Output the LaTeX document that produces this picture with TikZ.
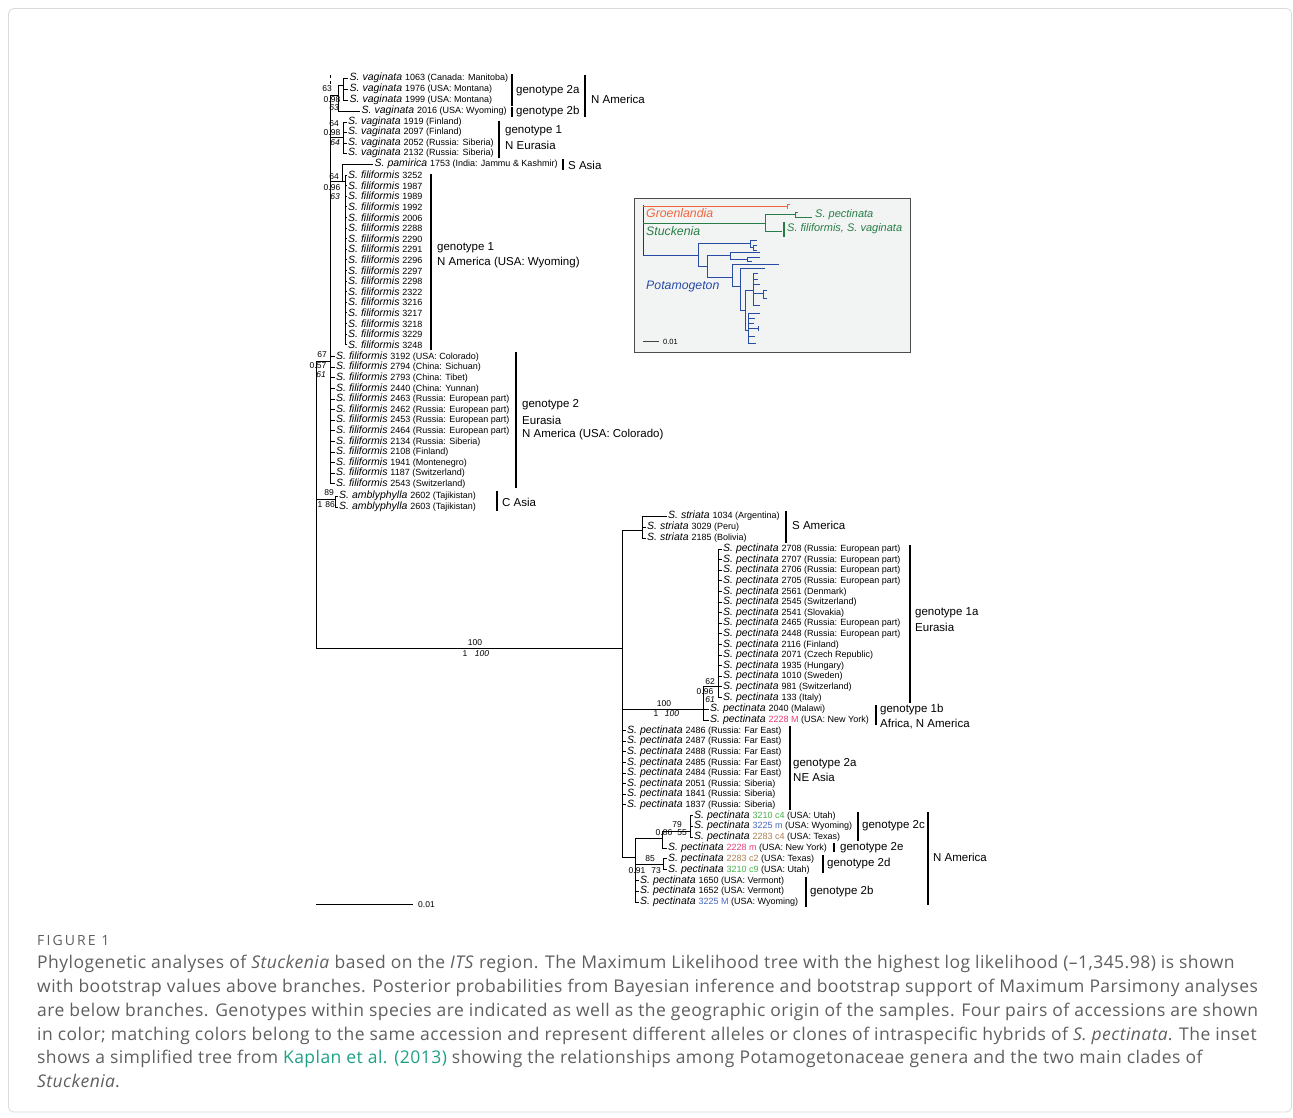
\documentclass[tikz,border=0pt]{standalone}
\usepackage{fontspec}
\setmainfont{Liberation Sans}
\newfontfamily\capfont{Open Sans}
\definecolor{cpink}{RGB}{232,60,120}
\definecolor{cgreen}{RGB}{70,175,75}
\definecolor{cblue}{RGB}{70,100,190}
\definecolor{cbrown}{RGB}{170,125,80}
\definecolor{iorange}{RGB}{240,100,60}
\definecolor{igreen}{RGB}{40,125,70}
\definecolor{iblue}{RGB}{40,75,165}
\definecolor{capgray}{RGB}{95,95,95}
\definecolor{linkcol}{RGB}{30,160,135}
\definecolor{insetbg}{RGB}{242,244,244}
\newcommand\rsm[1]{{\fontsize{9}{9}\selectfont\upshape #1}}
\newcommand\leafn[6]{\node[leaf] (#1) at (#3,#4) {S. #5 \rsm{#6}}; \draw[tk] (#2,#4) -- (#1.west);}
\begin{document}
\begin{tikzpicture}[x=1pt,y=-1pt,
 leaf/.style={anchor=west,inner xsep=1.5pt,inner ysep=0pt,font=\fontsize{10.5}{10.5}\selectfont\itshape},
 br/.style={line width=0.75pt},
 tk/.style={line width=0.75pt},
 bs/.style={inner sep=0pt,font=\fontsize{8.5}{8.5}\selectfont},
 bsi/.style={inner sep=0pt,font=\fontsize{8.5}{8.5}\selectfont\itshape},
 gbar/.style={line width=2.2pt},
 glab/.style={anchor=west,inner sep=0pt,font=\fontsize{11.5}{11.5}\selectfont},
 capline/.style={anchor=base west,inner sep=0pt,text=capgray,font=\capfont\fontsize{17.5}{17.5}\selectfont\addfontfeature{LetterSpace=2.6}},
 ib/.style={line width=1pt,iblue},
 ilab/.style={anchor=west,inner sep=0pt,font=\fontsize{12.3}{12.3}\selectfont\itshape},
]
\useasboundingbox (0,0) rectangle (1293,1117);
\draw[black!14,line width=0.8pt,rounded corners=5pt] (8.5,8.5) rectangle (1291.5,1112);

% ---------------- top clade leaves
\leafn{v1}{343}{348}{78}{vaginata}{1063 (Canada: Manitoba)}
\leafn{v2}{343}{348}{89}{vaginata}{1976 (USA: Montana)}
\leafn{v3}{343}{348}{100}{vaginata}{1999 (USA: Montana)}
\leafn{v4}{338}{360}{111}{vaginata}{2016 (USA: Wyoming)}
\leafn{v5}{343}{346.5}{122}{vaginata}{1919 (Finland)}
\leafn{v6}{343}{346.5}{132}{vaginata}{2097 (Finland)}
\leafn{v7}{343}{346.5}{143}{vaginata}{2052 (Russia: Siberia)}
\leafn{v8}{343}{346.5}{153}{vaginata}{2132 (Russia: Siberia)}
\leafn{pam}{342}{373}{164}{pamirica}{1753 (India: Jammu \& Kashmir)}
\foreach \num [count=\i from 0] in {3252,1987,1989,1992,2006,2288,2290,2291,2296,2297,2298,2322,3216,3217,3218,3229,3248}{
 \pgfmathsetmacro\yy{175+10.6*\i}
 \leafn{fa\i}{345}{346.5}{\yy}{filiformis}{\num}
}
\foreach \num/\loc [count=\i from 0] in {3192/USA: Colorado,2794/China: Sichuan,2793/China: Tibet,2440/China: Yunnan,2463/Russia: European part,2462/Russia: European part,2453/Russia: European part,2464/Russia: European part,2134/Russia: Siberia,2108/Finland,1941/Montenegro,1187/Switzerland,2543/Switzerland}{
 \pgfmathsetmacro\yy{356.5+10.6*\i}
 \leafn{fb\i}{330}{334.5}{\yy}{filiformis}{\num\ (\loc)}
}
\leafn{am1}{335}{337.5}{496}{amblyphylla}{2602 (Tajikistan)}
\leafn{am2}{335}{337.5}{507}{amblyphylla}{2603 (Tajikistan)}

% ---------------- top clade branches
\draw[br] (330,75) -- (330,78);
\draw[br] (330,81) -- (330,84);
\draw[br] (330,95) -- (330,483.7);
\draw[br] (316,361) -- (330,361);
\draw[br] (316,361) -- (316,648);
\draw[br] (330,95) -- (338,95);
\draw[br] (338,85) -- (338,111);
\draw[br] (338,85) -- (343,85);
\draw[br] (343,78) -- (343,100);
\draw[br] (330,137) -- (343,137);
\draw[br] (343,122) -- (343,153);
\draw[br] (330,181) -- (345,181);
\draw[br] (342,164) -- (342,181);
\draw[br] (345,175) -- (345,344.6);
\draw[br] (316,499) -- (335,499);
\draw[br] (335,496) -- (335,507);

\node[bs] (s1) at (327,89) {63};
\node[bs,anchor=west] (s2) at (323.5,100) {0.98};
\node[bsi] (s3) at (334,108) {63};
\node[bs] (s4) at (334,124) {64};
\node[bs,anchor=west] (s5) at (323.5,133) {0.98};
\node[bsi] (s6) at (335,143) {64};
\node[bs] (s7) at (334,177) {64};
\node[bs,anchor=west] (s8) at (323.5,188) {0.96};
\node[bsi] (s9) at (335,197) {63};
\node[bs] (s10) at (322,355) {67};
\node[bs,anchor=west] (s11) at (309.5,366) {0.57};
\node[bsi] (s12) at (321,375) {61};
\node[bs] (s13) at (329,493) {89};
\node[bs] (s14) at (320,505) {1};
\node[bs] (s15) at (330,505) {86};

% ---------------- bottom clade leaves
\leafn{st1}{642}{666.5}{516}{striata}{1034 (Argentina)}
\leafn{st2}{642}{645.5}{527}{striata}{3029 (Peru)}
\leafn{st3}{642}{645.5}{538}{striata}{2185 (Bolivia)}
\foreach \num/\loc [count=\i from 0] in {2708/Russia: European part,2707/Russia: European part,2706/Russia: European part,2705/Russia: European part,2561/Denmark,2545/Switzerland,2541/Slovakia,2465/Russia: European part,2448/Russia: European part,2116/Finland,2071/Czech Republic,1935/Hungary,1010/Sweden,981/Switzerland,133/Italy}{
 \pgfmathsetmacro\yy{549+10.6*\i}
 \leafn{pa\i}{718}{721.5}{\yy}{pectinata}{\num\ (\loc)}
}
\leafn{pb1}{703}{708.5}{709}{pectinata}{2040 (Malawi)}
\leafn{pb2}{703}{708.5}{720}{pectinata}{\textcolor{cpink}{2228 M} (USA: New York)}
\foreach \num/\loc [count=\i from 0] in {2486/Russia: Far East,2487/Russia: Far East,2488/Russia: Far East,2485/Russia: Far East,2484/Russia: Far East,2051/Russia: Siberia,1841/Russia: Siberia,1837/Russia: Siberia}{
 \pgfmathsetmacro\yy{730.5+10.6*\i}
 \leafn{pc\i}{622}{625.5}{\yy}{pectinata}{\num\ (\loc)}
}
\leafn{pd1}{690}{692.5}{815.5}{pectinata}{\textcolor{cgreen}{3210 c4} (USA: Utah)}
\leafn{pd2}{690}{692.5}{826}{pectinata}{\textcolor{cblue}{3225 m} (USA: Wyoming)}
\leafn{pd3}{690}{692.5}{837}{pectinata}{\textcolor{cbrown}{2283 c4} (USA: Texas)}
\leafn{pe1}{662}{666.5}{848}{pectinata}{\textcolor{cpink}{2228 m} (USA: New York)}
\leafn{pf1}{663}{666.5}{858.5}{pectinata}{\textcolor{cbrown}{2283 c2} (USA: Texas)}
\leafn{pf2}{663}{666.5}{869.5}{pectinata}{\textcolor{cgreen}{3210 c9} (USA: Utah)}
\leafn{pg1}{635}{638.5}{880.5}{pectinata}{1650 (USA: Vermont)}
\leafn{pg2}{635}{638.5}{891}{pectinata}{1652 (USA: Vermont)}
\leafn{pg3}{635}{638.5}{902}{pectinata}{\textcolor{cblue}{3225 M} (USA: Wyoming)}

% ---------------- bottom clade branches
\draw[br] (316,648) -- (622,648);
\draw[br] (622,530) -- (622,857);
\draw[br] (622,530) -- (642,530);
\draw[br] (642,516) -- (642,538);
\draw[br] (622,709) -- (703,709);
\draw[br] (703,686) -- (703,720);
\draw[br] (703,686) -- (718,686);
\draw[br] (718,549) -- (718,697.4);
\draw[br] (622,857) -- (635,857);
\draw[br] (635,838) -- (635,902);
\draw[br] (635,838) -- (662,838);
\draw[br] (662,831) -- (662,848);
\draw[br] (662,831) -- (690,831);
\draw[br] (690,815.5) -- (690,837);
\draw[br] (635,864) -- (663,864);
\draw[br] (663,858.5) -- (663,869.5);

\node[bs] (b1) at (475,643) {100};
\node[bs] (b2) at (465,654) {1};
\node[bsi] (b3) at (482,654) {100};
\node[bs] (b4) at (664,704) {100};
\node[bs] (b5) at (656,714) {1};
\node[bsi] (b6) at (672,714) {100};
\node[bs] (b7) at (710,682) {62};
\node[bs,anchor=west] (b8) at (696.5,692) {0.96};
\node[bsi] (b9) at (710,699.5) {61};
\node[bs] (b10) at (677,825) {79};
\node[bs,anchor=west] (b11) at (655.5,833) {0.86};
\node[bs] (b12) at (682,833) {55};
\node[bs] (b13) at (650,858.5) {85};
\node[bs,anchor=west] (b14) at (628.5,870.5) {0.91};
\node[bs] (b15) at (656,870.5) {73};

% ---------------- genotype bars
\draw[gbar] (512,74) -- (512,106);   \node[glab] (g1) at (516,91) {genotype 2a};
\draw[gbar] (512,107) -- (512,117);  \node[glab] (g2) at (516,112) {genotype 2b};
\draw[gbar] (585,75) -- (585,117);   \node[glab] (g3) at (591,99) {N America};
\draw[gbar] (499,121) -- (499,158);  \node[glab] (g4) at (505,131) {genotype 1};
\node[glab] (g5) at (505,145) {N Eurasia};
\draw[gbar] (563,159) -- (563,170);  \node[glab] (g6) at (568,165) {S Asia};
\draw[gbar] (431,174) -- (431,350);  \node[glab] (g7) at (437,248) {genotype 1};
\node[glab] (g8) at (437,263) {N America (USA: Wyoming)};
\draw[gbar] (516,352) -- (516,488);  \node[glab] (g9) at (522,405) {genotype 2};
\node[glab] (g10) at (522,420) {Eurasia};
\node[glab] (g11) at (522,435) {N America (USA: Colorado)};
\draw[gbar] (497,491) -- (497,511);  \node[glab] (g12) at (502,502) {C Asia};
\draw[gbar] (786,511) -- (786,543);  \node[glab] (g13) at (792,525) {S America};
\draw[gbar] (910,545) -- (910,703);  \node[glab] (g14) at (915,613) {genotype 1a};
\node[glab] (g15) at (915,627) {Eurasia};
\draw[gbar] (876,705) -- (876,725);  \node[glab] (g16) at (880,710) {genotype 1b};
\node[glab] (g17) at (880,724) {Africa, N America};
\draw[gbar] (790,726) -- (790,810);  \node[glab] (g18) at (793,764) {genotype 2a};
\node[glab] (g19) at (793,777) {NE Asia};
\draw[gbar] (858,812) -- (858,841);  \node[glab] (g20) at (862,826) {genotype 2c};
\draw[gbar] (834,843) -- (834,852);  \node[glab] (g21) at (840,848) {genotype 2e};
\draw[gbar] (823,855) -- (823,873);  \node[glab] (g22) at (827,864) {genotype 2d};
\draw[gbar] (806,877) -- (806,907);  \node[glab] (g23) at (810,892) {genotype 2b};
\draw[gbar] (928,812) -- (928,905);  \node[glab] (g24) at (933,857) {N America};

% scale bar
\draw[line width=0.8pt] (316,904) -- (413,904);
\node[bs,anchor=west] (sc) at (418,905) {0.01};

% ---------------- inset
\draw[line width=0.8pt,draw=black!70,fill=insetbg] (634,198) rectangle (910,352);
\draw[line width=1pt,black!80] (643,205) -- (643,255);
\draw[line width=1pt,iorange] (643,206) -- (787,206) (787,204) -- (787,209) (787,204) -- (790,204);
\draw[line width=1pt,igreen] (643,223) -- (765,223) (765,214) -- (765,231) (765,214) -- (795,214)
   (795,212) -- (795,217) (795,212) -- (798,212) (795,217) -- (812,217) (765,231) -- (782,231);
\draw[line width=2pt,igreen] (784,222) -- (784,237);
\draw[ib] (643,255) -- (698,255) (698,243) -- (698,266) (698,243) -- (750,243)
  (750,240) -- (750,247) (750,240) -- (757,240) (750,247) -- (753,247) (753,245) -- (753,250)
  (753,245) -- (757,245) (753,250) -- (757,250)
  (698,266) -- (707,266) (707,255) -- (707,277) (707,255) -- (730,255) (730,252) -- (730,259)
  (730,252) -- (760,252) (730,259) -- (747,259) (747,257) -- (747,261) (747,257) -- (760,257) (747,261) -- (752,261)
  (707,277) -- (732,277) (732,264) -- (732,286) (732,264) -- (779,264) (732,286) -- (740,286)
  (740,268) -- (740,310) (740,268) -- (765,268) (740,310) -- (745,310) (745,290) -- (745,330)
  (745,290) -- (753,290) (753,273) -- (753,305) (753,273) -- (758,273) (753,279) -- (758,279)
  (753,284) -- (760,284) (753,293) -- (763,293) (763,290) -- (763,298) (763,290) -- (767,290) (763,298) -- (767,298)
  (753,305) -- (760,305)
  (745,330) -- (748,330) (748,313) -- (748,343) (748,313) -- (760,313) (748,318) -- (755,318)
  (748,323) -- (754,323) (748,328) -- (758,328) (758,326) -- (758,331) (748,336) -- (755,336) (748,343) -- (756,343);
\node[ilab,text=iorange] (gro) at (646,213) {Groenlandia};
\node[ilab,text=igreen] (stu) at (646,231) {Stuckenia};
\node[ilab,text=iblue] (pot) at (646,287) {Potamogeton};
\node[ilab,text=igreen,font=\fontsize{11}{11}\selectfont\itshape] (ipe) at (815,215) {S. pectinata};
\node[ilab,text=igreen,font=\fontsize{11}{11}\selectfont\itshape] (ifv) at (787,229) {S. filiformis, S. vaginata};
\draw[line width=1pt,black!75] (643,341) -- (659,341);
\node[anchor=west,inner sep=0pt,font=\fontsize{7.5}{7.5}\selectfont] (isc) at (663,341.5) {0.01};

% ---------------- caption
\node[anchor=base west,inner sep=0pt,text=capgray,font=\capfont\fontsize{14}{14}\selectfont\addfontfeature{LetterSpace=15}] (fig) at (37,945) {FIGURE 1};
\node[capline] (c1) at (37,968) {Phylogenetic analyses of \textit{Stuckenia} based on the \textit{ITS} region. The Maximum Likelihood tree with the highest log likelihood (–1,345.98) is shown};
\node[capline] (c2) at (37,992) {with bootstrap values above branches. Posterior probabilities from Bayesian inference and bootstrap support of Maximum Parsimony analyses};
\node[capline] (c3) at (37,1016) {are below branches. Genotypes within species are indicated as well as the geographic origin of the samples. Four pairs of accessions are shown};
\node[capline] (c4) at (37,1040) {in color; matching colors belong to the same accession and represent different alleles or clones of intraspecific hybrids of \textit{S. pectinata}. The inset};
\node[capline] (c5) at (37,1063) {shows a simplified tree from \textcolor{linkcol}{Kaplan et al. (2013)} showing the relationships among Potamogetonaceae genera and the two main clades of};
\node[capline] (c6) at (37,1087) {\textit{Stuckenia}.};
\end{tikzpicture}
\end{document}
